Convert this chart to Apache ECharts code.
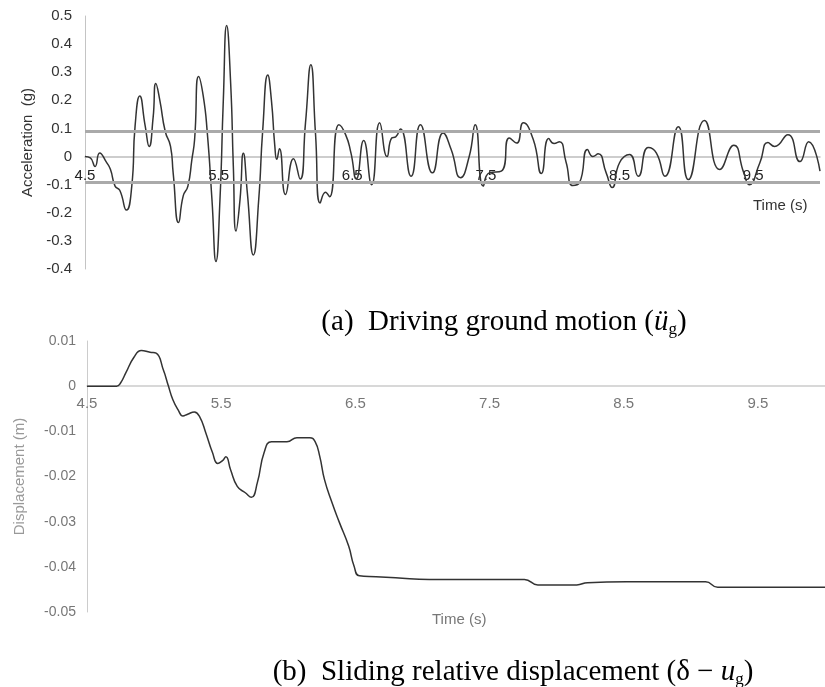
<!DOCTYPE html>
<html>
<head>
<meta charset="UTF-8">
<title>Ground motion and sliding displacement</title>
<script src="https://cdn.jsdelivr.net/npm/echarts@6/dist/echarts.min.js"></script>
<style>
  html, body { margin: 0; padding: 0; background: #fff; }
  #chart { width: 825px; height: 687px; }
</style>
</head>
<body>
<div id="chart"></div>
<script>
// (a) ground acceleration
var accTime = [4.5, 4.54, 4.575, 4.61, 4.66, 4.69, 4.725, 4.76, 4.81, 4.85, 4.875, 4.91, 4.95, 4.98, 5.01, 5.03, 5.06, 5.1, 5.14, 5.16,
  5.2, 5.235, 5.27, 5.3, 5.32, 5.35, 5.385, 5.415, 5.45, 5.48, 5.51, 5.535, 5.56, 5.59, 5.61, 5.63, 5.66, 5.685, 5.715, 5.76,
  5.8, 5.83, 5.868, 5.895, 5.92, 5.935, 5.955, 6.0, 6.06, 6.11, 6.15, 6.19, 6.225, 6.26, 6.3, 6.33, 6.4, 6.45, 6.49, 6.53,
  6.585, 6.645, 6.705, 6.76, 6.795, 6.825, 6.86, 6.94, 7.01, 7.1, 7.18, 7.24, 7.31, 7.375, 7.42, 7.48, 7.525, 7.615, 7.675, 7.73,
  7.78, 7.855, 7.915, 7.97, 8.01, 8.05, 8.1, 8.15, 8.2, 8.26, 8.3, 8.34, 8.4, 8.445, 8.5, 8.575, 8.64, 8.715, 8.775, 8.84,
  8.94, 9.015, 9.135, 9.25, 9.355, 9.43, 9.47, 9.55, 9.61, 9.66, 9.76, 9.85, 9.915, 10.0];
var accValue = [0, -0.005, -0.035, 0.013, -0.02, -0.045, -0.105, -0.12, -0.19, -0.105, 0.11, 0.215, 0.11, 0.036, 0.14, 0.26, 0.2, 0.09, 0.036, -0.06,
  -0.235, -0.14, -0.105, -0.01, 0.06, 0.285, 0.215, 0.085, -0.153, -0.373, -0.153, 0.2, 0.466, 0.26, -0.035, -0.265, -0.153, 0.012, -0.13, -0.35,
  -0.153, 0.095, 0.29, 0.2, 0.04, -0.01, 0.028, -0.135, -0.008, -0.08, 0.12, 0.327, 0.08, -0.165, -0.127, -0.143, 0.113, 0.078, 0.013, -0.08,
  0.057, -0.1, 0.12, 0.0, 0.066, 0.07, 0.098, -0.07, 0.113, -0.058, 0.084, 0.025, -0.075, 0.0, 0.113, -0.105, -0.058, -0.052, 0.066, 0.048,
  0.12, 0.06, -0.06, 0.064, 0.046, 0.053, -0.02, -0.103, -0.093, 0.025, 0.0, 0.01, -0.058, -0.11, -0.022, 0.007, -0.07, 0.032, 0.013, -0.07,
  0.106, -0.082, 0.128, -0.046, 0.04, -0.058, -0.1, -0.022, 0.05, 0.036, 0.078, -0.018, 0.053, -0.052];
var accLimits = [0.09, -0.09];

// (b) sliding relative displacement
var dispTime = [4.5, 4.72, 4.75, 4.79, 4.85, 4.905, 4.97, 5.015, 5.07, 5.105, 5.14, 5.18, 5.215, 5.25, 5.3, 5.34, 5.385, 5.435, 5.475, 5.51,
  5.535, 5.57, 5.62, 5.68, 5.725, 5.77, 5.82, 5.875, 5.99, 6.065, 6.16, 6.2, 6.235, 6.27, 6.325, 6.38, 6.45, 6.49, 6.53, 6.655,
  6.8, 7.05, 7.445, 7.76, 7.86, 8.15, 8.23, 8.52, 9.11, 9.2, 10.0];
var dispValue = [0, 0, 0.0007, 0.003, 0.0064, 0.0079, 0.0075, 0.0073, 0.0035, 0.0002, -0.003, -0.0053, -0.0066, -0.0062, -0.0057, -0.0068, -0.0103, -0.0147, -0.0171, -0.0165,
  -0.0156, -0.0185, -0.0222, -0.0236, -0.0246, -0.0213, -0.0147, -0.0123, -0.0123, -0.0114, -0.0114, -0.0123, -0.0156, -0.0207, -0.0257, -0.0301, -0.0354, -0.0398, -0.042, -0.0422,
  -0.0424, -0.0428, -0.0428, -0.0428, -0.044, -0.044, -0.0435, -0.0433, -0.0433, -0.0445, -0.0445];

var timeTicks = [4.5, 5.5, 6.5, 7.5, 8.5, 9.5];

function zip(xs, ys) {
  return xs.map(function (x, i) { return [x, ys[i]]; });
}

var chart = echarts.init(document.getElementById('chart'));
var sans = 'Liberation Sans, Arial, sans-serif';
var serif = 'Liberation Serif, Times New Roman, serif';

// caption styles: plain text, italic variable, subscript
function captionRich() {
  return {
    n: { fontFamily: serif, fontSize: 29, fontWeight: 'normal', color: '#000', lineHeight: 32 },
    i: { fontFamily: serif, fontSize: 29, fontWeight: 'normal', fontStyle: 'italic', color: '#000', lineHeight: 32 },
    s: { fontFamily: serif, fontSize: 17, fontWeight: 'normal', color: '#000', lineHeight: 14, verticalAlign: 'bottom' }
  };
}

chart.setOption({
  animation: false,
  grid: [
    { left: 85, top: 16, width: 735, height: 253 },
    { left: 87, top: 341, width: 746, height: 271 }
  ],
  xAxis: [
    {
      // axis drawn through y = 0 (112 px above the grid's bottom edge)
      gridIndex: 0, type: 'value', min: 4.5, max: 10,
      offset: -112,
      splitLine: { show: false },
      axisTick: { show: false },
      axisLine: { onZero: false, lineStyle: { color: '#bdbdbd', width: 1.5 } },
      axisLabel: { customValues: timeTicks, color: '#222', fontSize: 15, fontFamily: sans, margin: 11 }
    },
    {
      gridIndex: 1, type: 'value', min: 4.5, max: 10,
      offset: -226,
      splitLine: { show: false },
      axisTick: { show: false },
      axisLine: { onZero: false, lineStyle: { color: '#cccccc', width: 1.5 } },
      axisLabel: { customValues: timeTicks, color: '#777', fontSize: 15, fontFamily: sans, margin: 10 }
    }
  ],
  yAxis: [
    {
      gridIndex: 0, type: 'value', min: -0.4, max: 0.5, interval: 0.1,
      splitLine: { show: false },
      axisTick: { show: false },
      axisLine: { show: true, lineStyle: { color: '#c4c4c4', width: 1 } },
      axisLabel: { color: '#333', fontSize: 15, fontFamily: sans, margin: 13 },
      name: 'Acceleration  (g)', nameLocation: 'middle', nameGap: 39,
      nameTextStyle: { color: '#333', fontSize: 15, fontFamily: sans }
    },
    {
      gridIndex: 1, type: 'value', min: -0.05, max: 0.01, interval: 0.01,
      splitLine: { show: false },
      axisTick: { show: false },
      axisLine: { show: true, lineStyle: { color: '#cccccc', width: 1 } },
      axisLabel: { color: '#777', fontSize: 14, fontFamily: sans, margin: 11 },
      name: 'Displacement (m)', nameLocation: 'middle', nameGap: 60,
      nameTextStyle: { color: '#999', fontSize: 15, fontFamily: sans }
    }
  ],
  title: [
    {
      left: 499, top: 301, textAlign: 'center',
      text: '{n|(a)  Driving ground motion (}{i|ü}{s|g}{n|)}',
      textStyle: { fontWeight: 'normal', rich: captionRich() }
    },
    {
      left: 508, top: 651, textAlign: 'center',
      text: '{n|(b)  Sliding relative displacement (δ − }{i|u}{s|g}{n|)}',
      textStyle: { fontWeight: 'normal', rich: captionRich() }
    }
  ],
  graphic: [
    { type: 'text', left: 753, top: 198, style: { text: 'Time (s)', fill: '#333', font: '15px ' + sans } },
    { type: 'text', left: 432, top: 612, style: { text: 'Time (s)', fill: '#777', font: '15px ' + sans } }
  ],
  series: [
    {
      type: 'line', xAxisIndex: 0, yAxisIndex: 0,
      data: zip(accTime, accValue),
      showSymbol: false, smooth: 0.55,
      lineStyle: { color: '#333', width: 1.5 },
      markLine: {
        silent: true, symbol: 'none', label: { show: false },
        lineStyle: { color: '#aaaaaa', width: 3, type: 'solid' },
        data: accLimits.map(function (v) { return { yAxis: v }; })
      },
      z: 3
    },
    {
      type: 'line', xAxisIndex: 1, yAxisIndex: 1,
      data: zip(dispTime, dispValue),
      showSymbol: false, smooth: 0.5,
      lineStyle: { color: '#333', width: 1.5 }
    }
  ]
});
</script>
</body>
</html>
